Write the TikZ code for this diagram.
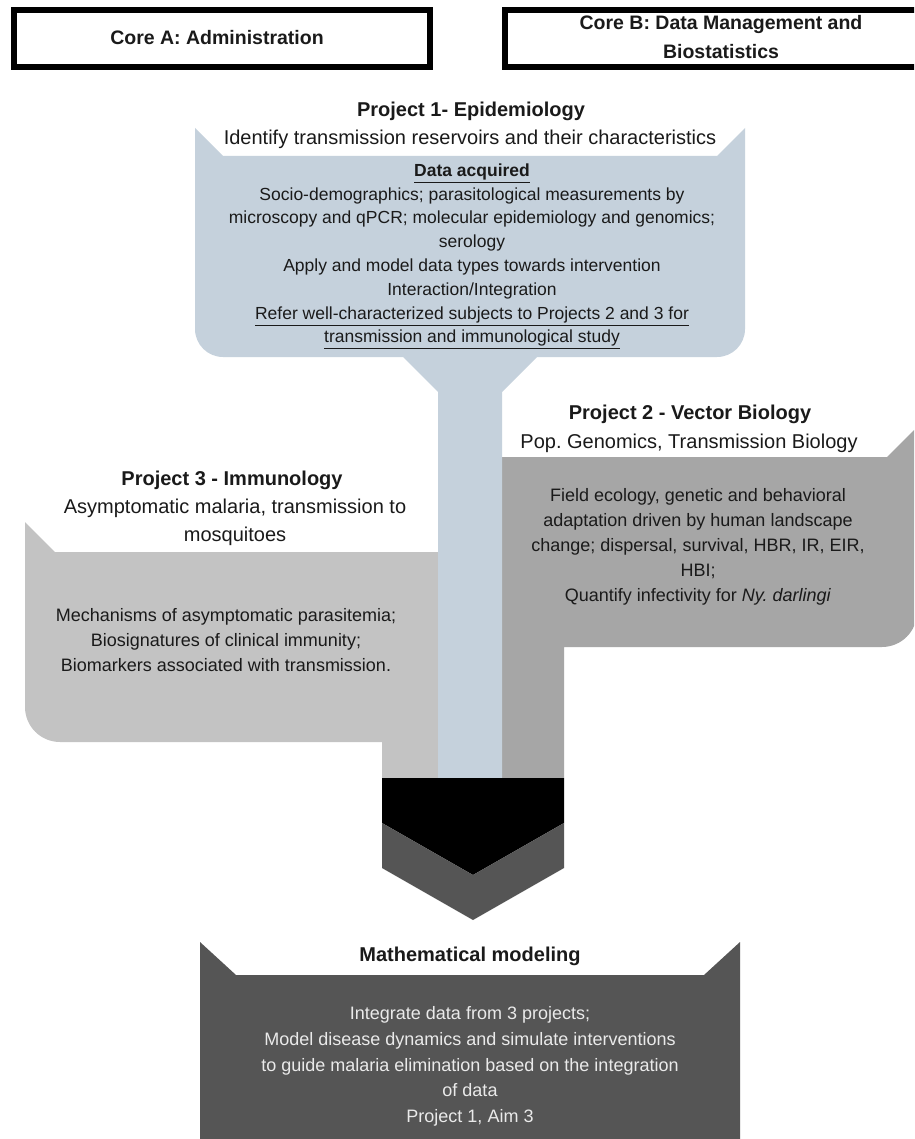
\documentclass[tikz,border=0pt]{standalone}
\usepackage{fontspec}
\setmainfont{Liberation Sans}
\frenchspacing
\definecolor{pblue}{HTML}{C5D1DC}
\definecolor{pgrayL}{HTML}{C3C3C3}
\definecolor{pgrayM}{HTML}{A6A6A6}
\definecolor{pgrayD}{HTML}{555555}
\definecolor{txt}{HTML}{1A1A1A}
\definecolor{mtxt}{HTML}{EAEAEA}
\tikzset{
  ttl/.style={font=\fontsize{20}{24}\selectfont\bfseries, text=txt, inner sep=0pt, text height=15pt, text depth=2pt},
  sub/.style={font=\fontsize{20}{24}\selectfont, text=txt, inner sep=0pt, text height=15pt, text depth=2pt},
  bd/.style={font=\fontsize{18}{22}\selectfont, text=txt, inner sep=0pt, text height=13.5pt, text depth=1.5pt},
  bdone/.style={font=\fontsize{17.5}{22}\selectfont, text=txt, inner sep=0pt, text height=13pt, text depth=1.5pt},
  mbd/.style={bd, text=mtxt},
  corebox/.style={draw=black, line width=6pt, fill=white},
  coretxt/.style={font=\fontsize{19.5}{24}\selectfont\bfseries, text=txt, inner sep=0pt, text height=14.5pt, text depth=2pt}
}
\begin{document}
\begin{tikzpicture}[x=1pt,y=-1pt]
\useasboundingbox (0,0) rectangle (914,1139);
\clip (0,0) rectangle (914,1139);
\fill[white] (0,0) rectangle (914,1139);

% Project 3 shape
\fill[pgrayL] (25,522) -- (55,552) -- (440,552) -- (440,778) -- (382,778) -- (382,742)
  -- (60,742) arc[start angle=90, end angle=180, radius=35] -- cycle;
% Project 2 shape
\fill[pgrayM] (500,457) -- (887,457) -- (917,427) -- (917,612)
  arc[start angle=0, end angle=90, radius=35] -- (564,647) -- (564,778) -- (500,778) -- cycle;
% Project 1 shape with stem
\fill[pblue] (195,128) -- (223,156) -- (717,156) -- (745,128) -- (745,329)
  arc[start angle=0, end angle=90, radius=28] -- (537,357) -- (502,392) -- (502,778)
  -- (438,778) -- (438,392) -- (403,357) -- (223,357)
  arc[start angle=90, end angle=180, radius=28] -- cycle;
% Chevrons
\fill[black] (382,778) -- (564,778) -- (564,823) -- (473,875) -- (382,823) -- cycle;
\fill[pgrayD] (382,823) -- (473,875) -- (564,823) -- (564,868) -- (473,920) -- (382,868) -- cycle;
% Mathematical modeling box
\fill[pgrayD] (200,942) -- (236,975) -- (704,975) -- (740,942) -- (740,1139) -- (200,1139) -- cycle;

% Core boxes
\draw[corebox] (14,10) rectangle (430,67);
\draw[corebox] (505,10) rectangle (950,67);
\node[coretxt] (coreA) at (217,38) {Core A: Administration};
\node[coretxt] (coreB1) at (721,23) {Core B: Data Management and};
\node[coretxt] (coreB2) at (721,52) {Biostatistics};

% Project 1 text
\node[ttl] (p1t) at (471,110) {Project 1- Epidemiology};
\node[sub] (p1s) at (470,138) {Identify transmission reservoirs and their characteristics};
\node[bdone, font=\fontsize{17.5}{22}\selectfont\bfseries] (p1a) at (472,171) {\underline{Data acquired}};
\node[bdone] (p1b) at (472,195) {Socio-demographics; parasitological measurements by};
\node[bdone] (p1c) at (472,218) {microscopy and qPCR; molecular epidemiology and genomics;};
\node[bdone] (p1d) at (472,242) {serology};
\node[bdone] (p1e) at (472,266) {Apply and model data types towards intervention};
\node[bdone] (p1f) at (472,290) {Interaction/Integration};
\node[bdone] (p1g) at (472,314) {\underline{Refer well-characterized subjects to Projects 2 and 3 for}};
\node[bdone] (p1h) at (472,337) {\underline{transmission and immunological study}};

% Project 2 text
\node[ttl] (p2t) at (690,413) {Project 2 - Vector Biology};
\node[sub] (p2s) at (689,442) {Pop. Genomics, Transmission Biology};
\node[bd] (p2a) at (698,495) {Field ecology, genetic and behavioral};
\node[bd] (p2b) at (698,520) {adaptation driven by human landscape};
\node[bd] (p2c) at (698,545) {change; dispersal, survival, HBR, IR, EIR,};
\node[bd] (p2d) at (698,570) {HBI;};
\node[bd] (p2e) at (698,595) {Quantify infectivity for \textit{Ny. darlingi}};

% Project 3 text
\node[ttl] (p3t) at (232,479) {Project 3 - Immunology};
\node[sub] (p3s) at (235,507) {Asymptomatic malaria, transmission to};
\node[sub] (p3u) at (235,535) {mosquitoes};
\node[bd] (p3a) at (226,615) {Mechanisms of asymptomatic parasitemia;};
\node[bd] (p3b) at (226,640) {Biosignatures of clinical immunity;};
\node[bd] (p3c) at (226,665) {Biomarkers associated with transmission.};

% Mathematical modeling text
\node[ttl] (mt) at (470,955) {Mathematical modeling};
\node[mbd] (ma) at (470,1013) {Integrate data from 3 projects;};
\node[mbd] (mb) at (470,1039) {Model disease dynamics and simulate interventions};
\node[mbd] (mc) at (470,1065) {to guide malaria elimination based on the integration};
\node[mbd] (md) at (470,1090) {of data};
\node[mbd] (me) at (470,1116) {Project 1, Aim 3};
\end{tikzpicture}
\end{document}
